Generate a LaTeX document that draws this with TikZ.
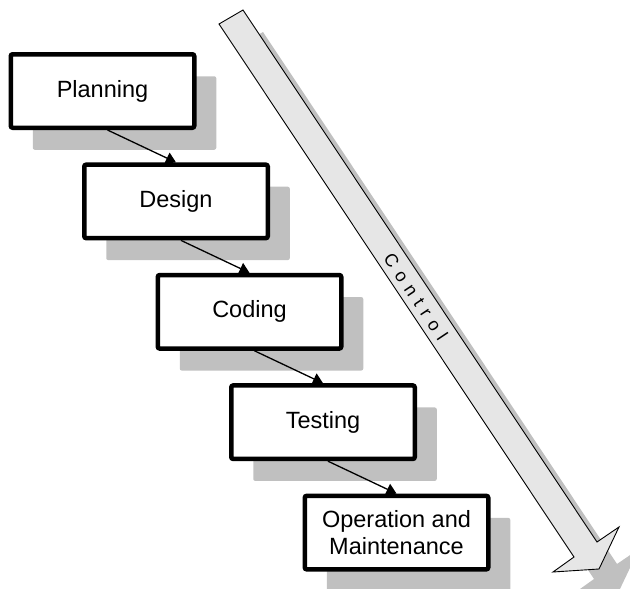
\documentclass[tikz,border=0pt]{standalone}
\usepackage{fontspec}
\setmainfont{Liberation Sans}
\usetikzlibrary{arrows.meta,shadows}
\definecolor{shadowgray}{RGB}{192,192,192}
\definecolor{ctrlfill}{RGB}{230,230,230}
\tikzset{
  stage/.style={draw=black, line width=4.5pt, fill=white, rounded corners=2pt,
    minimum width=183.5pt, minimum height=73.5pt, inner sep=0pt, align=center,
    font=\fontsize{23.5}{27}\selectfont,
    drop shadow={shadow xshift=22pt, shadow yshift=-22pt, fill=shadowgray, opacity=1}},
  flow/.style={line width=1.3pt, -{Triangle[length=10pt,width=12pt]}},
  ctrl/.style={draw=black, line width=0.9pt, fill=ctrlfill, line join=miter},
  ctrlshadow/.style={fill=shadowgray},
  ctrltext/.style={rotate=-56.3, inner sep=0pt, font=\fontsize{18}{21}\selectfont},
}
\newcommand{\ctrlarrowpath}{(219,24) -- (243,10) -- (597,542) -- (619,527) -- (599,569) -- (553,572) -- (574,557) -- cycle}
\begin{document}
\begin{tikzpicture}[x=1pt,y=-1pt]
  \useasboundingbox (0,0) rectangle (630,589);
  % control arrow with shadow
  \fill[ctrlshadow, shift={(20,22)}] \ctrlarrowpath;
  \draw[ctrl] \ctrlarrowpath;
  \node[ctrltext] (ctrl) at (416,297) {C\hspace{7pt}o\hspace{7pt}n\hspace{7pt}t\hspace{7pt}r\hspace{7pt}o\hspace{7pt}l};
  % stages
  \node[stage] (plan) at (102.5,91) {Planning};
  \node[stage] (design) at (176,201.4) {Design};
  \node[stage] (coding) at (249.5,311.8) {Coding};
  \node[stage] (testing) at (323,422.2) {Testing};
  \node[stage] (ops) at (396.5,532.6) {Operation and\\Maintenance};
  % flow arrows
  \draw[flow] ([xshift=5pt]plan.south) -- (design.north);
  \draw[flow] ([xshift=5pt]design.south) -- (coding.north);
  \draw[flow] ([xshift=5pt]coding.south) -- (testing.north);
  \draw[flow] ([xshift=5pt]testing.south) -- (ops.north);
\end{tikzpicture}
\end{document}
